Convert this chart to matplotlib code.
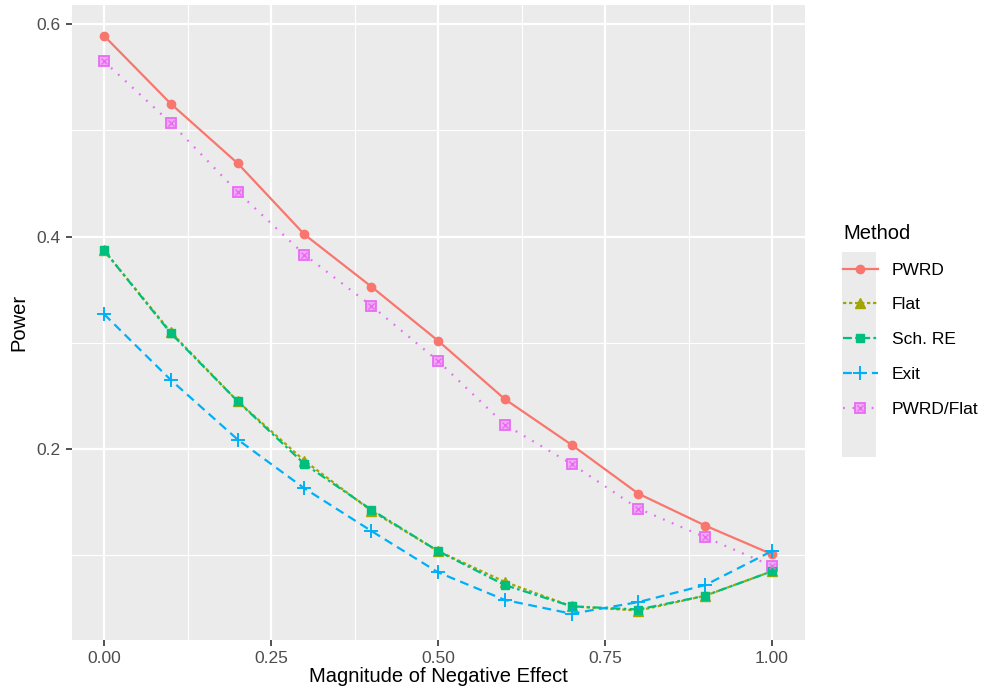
import matplotlib
matplotlib.use("Agg")
import matplotlib.pyplot as plt
from matplotlib.patches import Rectangle
from matplotlib.lines import Line2D
from matplotlib.ticker import MultipleLocator
from matplotlib.legend_handler import HandlerTuple

plt.rcParams['font.family'] = ['Liberation Sans', 'DejaVu Sans']

x = [0.0, 0.1, 0.2, 0.3, 0.4, 0.5, 0.6, 0.7, 0.8, 0.9, 1.0]
pwrd = [0.589, 0.525, 0.469, 0.402, 0.353, 0.302, 0.247, 0.204, 0.158, 0.128, 0.101]
flat = [0.387, 0.310, 0.245, 0.189, 0.142, 0.104, 0.075, 0.052, 0.048, 0.062, 0.085]
sch_re = [0.387, 0.309, 0.245, 0.186, 0.143, 0.104, 0.072, 0.052, 0.049, 0.062, 0.085]
exit_ = [0.327, 0.265, 0.209, 0.163, 0.123, 0.084, 0.058, 0.045, 0.056, 0.072, 0.104]
pwrd_flat = [0.565, 0.507, 0.442, 0.383, 0.335, 0.283, 0.223, 0.186, 0.144, 0.117, 0.090]
methods = ["PWRD", "Flat", "Sch. RE", "Exit", "PWRD/Flat"]
xticks = [0, 0.25, 0.5, 0.75, 1.0]
xticklabels = ["0.00", "0.25", "0.50", "0.75", "1.00"]
yticks = [0.2, 0.4, 0.6]
yticklabels = ["0.2", "0.4", "0.6"]

colors = ["#F8766D", "#A3A500", "#00BF7D", "#00B0F6", "#E76BF3"]

fig = plt.figure(figsize=(9.83, 6.99), dpi=100)
ax = fig.add_axes([72/983, 59/699, (805-72)/983, (640-5)/699])
ax.set_facecolor("#EBEBEB")
for s in ax.spines.values():
    s.set_visible(False)

ax.set_xlim(-0.048, 1.0494)
ax.set_ylim(0.0203, 0.618)
ax.xaxis.set_minor_locator(MultipleLocator(0.125))
ax.yaxis.set_minor_locator(MultipleLocator(0.1))
ax.set_yticks(yticks)
ax.set_yticklabels(yticklabels)
ax.set_xticks(xticks)
ax.set_xticklabels(xticklabels)
ax.grid(which="major", color="white", linewidth=1.6)
ax.grid(which="minor", color="white", linewidth=0.8)
ax.set_axisbelow(True)
ax.tick_params(which="major", length=4, width=1.2, color="#333333", labelsize=12.5, labelcolor="#4D4D4D", pad=4)
ax.tick_params(which="minor", length=0)

series = [pwrd, flat, sch_re, exit_, pwrd_flat]
styles = [
    dict(linestyle="-", marker="o", ms=6),
    dict(linestyle=(0, (1.5, 1.2)), marker="^", ms=6.5),
    dict(linestyle=(0, (4, 1.5, 1.2, 1.5)), marker="s", ms=5.5),
    dict(linestyle=(0, (4, 2.5)), marker="+", ms=10, mew=1.4),
    dict(linestyle=(0, (0.8, 3.5)), marker="s", ms=7),
]
handles = []
for i, (y, c, st, m) in enumerate(zip(series, colors, styles, methods)):
    kw = dict(st)
    if i == 4:
        ax.plot(x, y, color=c, lw=1.6, linestyle=kw["linestyle"], marker="s",
                ms=7, mfc="#F3A8F6", mec=c, mew=1.3, zorder=3)
        ax.plot(x, y, linestyle="none", marker="x", ms=5, mec=c, mew=1.0, zorder=4)
        h = (Line2D([], [], color=c, lw=1.6, linestyle=kw["linestyle"], marker="s", ms=7,
                    mfc="#F3A8F6", mec=c, mew=1.3),
             Line2D([], [], linestyle="none", marker="x", ms=5, mec=c, mew=1.0))
    else:
        ax.plot(x, y, color=c, lw=1.6, zorder=3 + i * 0.1, **kw)
        h = Line2D([], [], color=c, lw=1.6, **kw)
    handles.append(h)

ax.set_xlabel("Magnitude of Negative Effect", fontsize=14.5, labelpad=1)
ax.set_ylabel("Power", fontsize=14.5, labelpad=6)

# legend key background
fig.patches.append(Rectangle((842/983, 1 - 457/699), 34/983, 205/699,
                             transform=fig.transFigure, facecolor="#EBEBEB",
                             edgecolor="none", zorder=0))
leg = fig.legend(handles, methods, loc="upper left",
                 bbox_to_anchor=(836/983, 1 - 217/699), frameon=False,
                 title="Method", title_fontsize=14.5, fontsize=12.5,
                 handlelength=2.0, handletextpad=0.8, labelspacing=1.13,
                 alignment="left", borderaxespad=0,
                 handler_map={tuple: HandlerTuple(ndivide=1, pad=0)})

fig.savefig("out.png", dpi=100)
